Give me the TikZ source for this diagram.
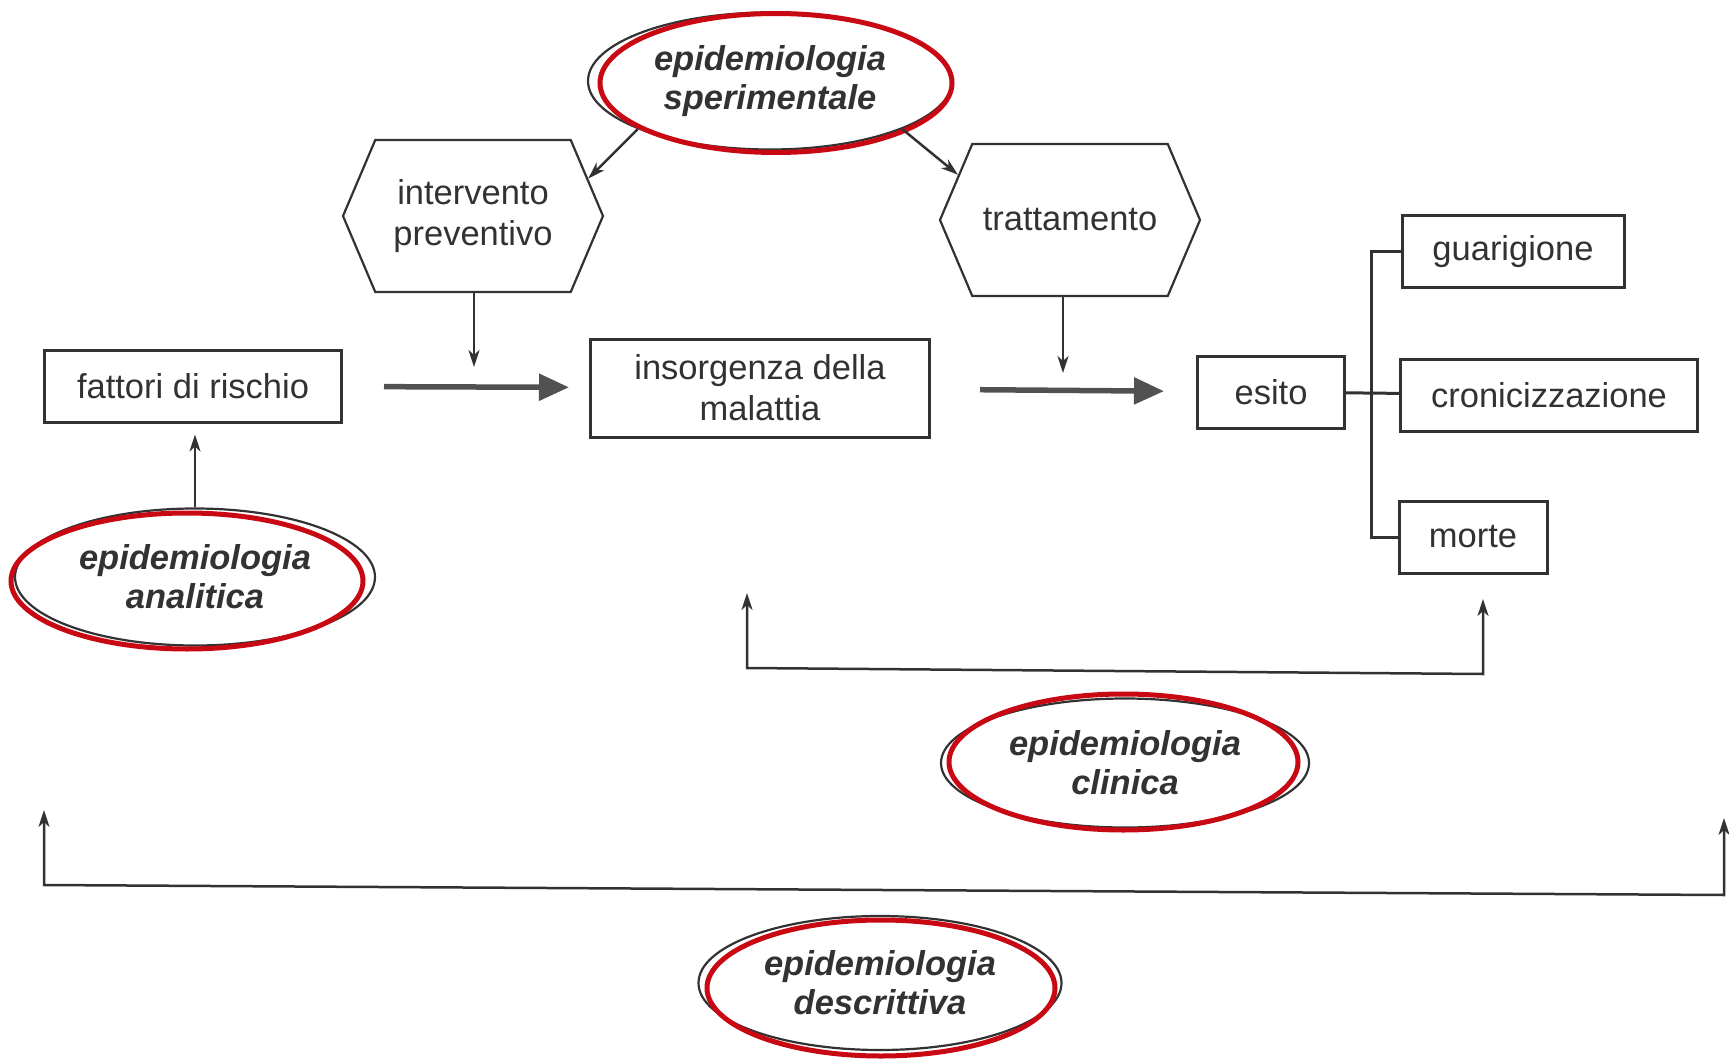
\documentclass[tikz,border=0pt]{standalone}
\usepackage{fontspec}
\setmainfont{Liberation Sans}
\usepackage{tikz}
\usetikzlibrary{calc,positioning,shapes}
\usetikzlibrary{shapes.symbols}
\usetikzlibrary{arrows.meta}
\tikzset{>={Stealth[width=11pt,length=17pt,inset=5pt]}}
\definecolor{inkgray}{RGB}{50,50,50}
\definecolor{ringred}{RGB}{200,8,18}

\begin{document}
\begin{tikzpicture}[x=1pt,y=-1pt, every node/.append style={text=inkgray}, font=\fontsize{34.5}{41}\selectfont]
      %%%%%%%%%%%%%%%%%%%%%%%%%%%%%%%%%%%%%%%%%%%%%%%%%%
      %% stages of the disease
      %%%%%%%%%%%%%%%%%%%%%%%%%%%%%%%%%%%%%%%%%%%%%%%%%%
      \tikzstyle{bnode} = [draw=inkgray, line width=3pt, rectangle, inner sep=0pt, align=center, minimum height=72pt]
      \tikzstyle{hnode} = [draw=inkgray, line width=2.2pt, signal, signal to=west and east, signal pointer angle=134, minimum width=260pt, minimum height=152pt, inner sep=0pt, align=center]
      \tikzstyle{enode} = [draw=inkgray, line width=2.2pt, ellipse, inner sep=0pt, align=center, font=\fontsize{34.5}{39}\selectfont\bfseries\itshape]
      \tikzstyle{ring} = [draw=ringred, line width=5pt]
      \tikzstyle{bigarrow} = [line width=5.5pt, draw=inkgray!85, -{Triangle[length=30pt,width=26pt]}]
      \tikzstyle{lnk} = [line width=2.5pt, draw=inkgray, ->]
      \useasboundingbox (0,0) rectangle (1729,1059);
      \node[bnode, minimum width=297pt] (fatt) at (193,386) {fattori di rischio};
      \node[bnode, minimum width=339pt, minimum height=98pt] (ins) at (760,388) {insorgenza della\\malattia};
      \node[bnode, minimum width=147pt] (esito) at (1271,392) {esito};
      \node[bnode, minimum width=222pt] (guar) at (1513,252) {guarigione};
      \node[bnode, minimum width=297pt] (cron) at (1549,395) {cronicizzazione};
      \node[bnode, minimum width=148pt] (morte) at (1473,537) {morte};
      \node[hnode] (prev) at (473,216) {intervento\\preventivo};
      \node[hnode] (tratt) at (1070,220) {trattamento};
      %%%%%%%%%%%%%%%%%%%%%%%%%%%%%%%%%%%%%%%%%%%%%%%%%%
      %% branches of epidemiology
      %%%%%%%%%%%%%%%%%%%%%%%%%%%%%%%%%%%%%%%%%%%%%%%%%%
      \node[enode, minimum width=364pt, minimum height=137pt] (sper) at (770,81) {epidemiologia\\sperimentale};
      \draw[ring] ($(sper)+(6,2)$) ellipse [x radius=176pt, y radius=69.5pt];
      \node[enode, minimum width=360pt, minimum height=137pt] (ana) at (195,577) {epidemiologia\\analitica};
      \draw[ring] ($(ana)+(-8,4)$) ellipse [x radius=176pt, y radius=68pt];
      \node[enode, minimum width=368pt, minimum height=129pt] (clin) at (1125,763) {epidemiologia\\clinica};
      \draw[ring] ($(clin)+(-1.5,-1)$) ellipse [x radius=174.5pt, y radius=68pt];
      \node[enode, minimum width=363pt, minimum height=134pt] (descr) at (880,983) {epidemiologia\\descrittiva};
      \draw[ring] ($(descr)+(1,5)$) ellipse [x radius=174pt, y radius=68pt];
      % course of the disease
      \draw[bigarrow, shorten <=41pt, shorten >=20pt] (fatt) -- (ins);
      \draw[bigarrow, shorten <=49pt, shorten >=32pt] (ins) -- (esito);
      \coordinate (prevtip) at (474,367);
      \coordinate (trtip) at (1063,373);
      \draw[lnk] (prevtip |- prev.south) -- (prevtip);
      \draw[lnk] (trtip |- tratt.south) -- (trtip);
      \draw[lnk] (sper.200) -- (prev.18);
      \draw[lnk] (sper.-20) -- (tratt.158);
      \draw[lnk, shorten >=11pt] (ana.north) -- (ana.north |- fatt.south);
      % outcomes
      \coordinate (bus) at (1371,0);
      \draw[line width=3pt, draw=inkgray] (esito) -- (cron);
      \draw[line width=3pt, draw=inkgray] (guar.west) -- (guar.west -| bus) -- (morte.west -| bus) -- (morte.west);
      % ranges
      \coordinate (clA) at (747,593);
      \coordinate (clB) at (747,668);
      \coordinate (clC) at (1483,674);
      \coordinate (clD) at (1483,599);
      \draw[lnk, <->] (clA) -- (clB) -- (clC) -- (clD);
      \coordinate (deA) at (44,810);
      \coordinate (deB) at (44,885);
      \coordinate (deC) at (1724,895);
      \coordinate (deD) at (1724,818);
      \draw[lnk, <->] (deA) -- (deB) -- (deC) -- (deD);
    \end{tikzpicture}
\end{document}
